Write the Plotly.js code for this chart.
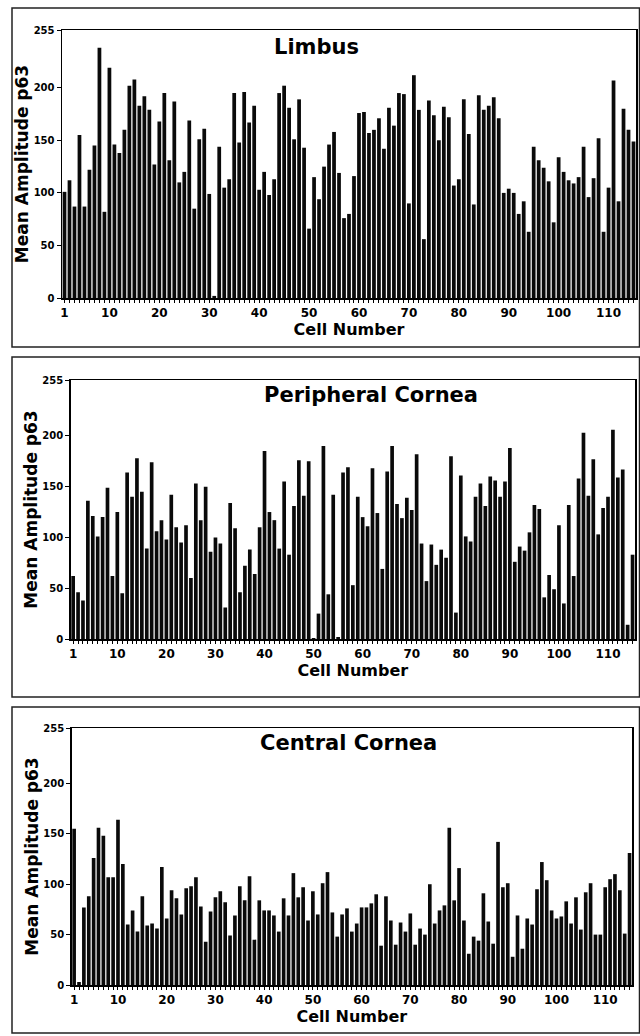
<!DOCTYPE html>
<html><head><meta charset="utf-8">
<script src="https://cdn.plot.ly/plotly-3.0.1.min.js"></script>
<style>html,body{margin:0;padding:0;background:#fff;} #chart{width:640px;height:1036px;}</style>
</head><body><div id="chart"></div>
<script>
// ---- data ----
const cellNumbers = Array.from({length: 115}, (_, i) => i + 1);
const limbus = [101,112,87,155,87,122,145,238,82,219,146,138,160,202,208,183,192,179,127,168,195,131,187,110,120,169,85,151,161,99,2,144,105,113,195,148,
196,167,183,103,120,98,113,195,202,181,151,189,143,66,115,94,125,146,158,119,76,80,116,176,177,157,160,171,142,181,164,195,194,90,212,179,56,188,174,150,
182,172,107,113,189,156,89,193,179,183,191,171,100,104,100,80,92,63,144,131,124,111,72,134,120,112,109,115,144,96,114,152,63,105,207,92,180,160,149];
const peripheral = [62,46,38,136,121,101,120,149,62,125,45,164,140,178,145,89,174,106,117,98,142,110,95,112,60,153,117,150,86,100,
94,31,134,109,46,72,88,64,110,185,125,117,89,155,83,131,176,141,175,1,25,190,44,142,2,164,169,53,140,120,111,168,124,69,165,190,133,119,139,127,182,
94,57,93,73,88,80,180,26,161,101,96,140,153,131,160,156,140,155,188,76,91,87,105,132,128,41,63,49,112,35,132,62,158,203,141,177,103,129,140,206,159,167,14,83];
const central = [155,3,77,88,126,156,148,107,107,164,120,60,74,53,88,59,61,56,117,66,94,86,70,96,98,107,78,43,73,87,93,82,49,69,98,
84,108,45,84,74,74,69,53,86,69,111,87,97,64,93,70,101,112,72,48,70,76,53,61,77,77,81,90,39,88,64,40,62,53,71,40,56,50,100,61,74,
79,156,84,116,64,31,48,44,91,63,41,142,97,101,28,69,36,66,60,95,122,104,74,66,68,83,61,87,55,92,101,50,50,97,105,110,94,51,131];
const xTickLabels = [1,10,20,30,40,50,60,70,80,90,100,110];
const yTickVals = [0,50,100,150,200,255];
const panelTitles = ['Limbus','Peripheral Cornea','Central Cornea'];
const xTitle = 'Cell Number';
const yTitle = 'Mean Amplitude p63';

// ---- layout helpers ----
const W = 640, H = 1036;
const FONT = 'DejaVu Sans, Liberation Sans, Arial, sans-serif';
const px = x => x / W;
const py = y => 1 - y / H;

const panels = [
  {vals: limbus,     x0: 62,   x1: 636, yb: 298, yt: 30,  tx: 316, ty: 47,  frame: [12, 8, 639.5, 347]},
  {vals: peripheral, x0: 70.7, x1: 635, yb: 639, yt: 380, tx: 371, ty: 395, frame: [12, 357, 639.5, 697]},
  {vals: central,    x0: 71.7, x1: 632, yb: 985, yt: 728, tx: 348, ty: 743, frame: [12, 707, 639.5, 1033]}
];

const data = [];
const layout = {
  width: W, height: H,
  margin: {l: 0, r: 0, t: 0, b: 0},
  paper_bgcolor: '#fff', plot_bgcolor: '#fff',
  showlegend: false,
  bargap: 0.25,
  font: {family: FONT, color: '#000'},
  annotations: [], shapes: []
};

panels.forEach((p, i) => {
  const n = i === 0 ? '' : String(i + 1);
  data.push({
    type: 'bar', x: cellNumbers, y: p.vals,
    xaxis: 'x' + n, yaxis: 'y' + n,
    marker: {color: '#0a0a0a', line: {width: 0}},
    hoverinfo: 'x+y'
  });
  layout['xaxis' + n] = {
    domain: [px(p.x0), px(p.x1)], anchor: 'y' + n,
    range: [0.5, 115.5],
    tickmode: 'array', tickvals: cellNumbers,
    ticktext: cellNumbers.map(c => xTickLabels.includes(c) ? String(c) : ''),
    tickangle: 0,
    ticks: 'outside', ticklen: 3, tickwidth: 1, tickcolor: '#000',
    showline: true, linecolor: '#000', linewidth: 1.5, mirror: true,
    showgrid: false, zeroline: false,
    tickfont: {family: FONT, size: 12, weight: 'bold', color: '#000'},
    title: {text: xTitle, font: {family: FONT, size: 16, weight: 'bold', color: '#000'}, standoff: 2}
  };
  layout['yaxis' + n] = {
    domain: [py(p.yb), py(p.yt)], anchor: 'x' + n,
    range: [0, 255],
    tickmode: 'array', tickvals: yTickVals,
    ticks: 'outside', ticklen: 4, tickwidth: 1, tickcolor: '#000',
    showline: true, linecolor: '#000', linewidth: 1.5, mirror: true,
    showgrid: false, zeroline: false,
    tickfont: {family: FONT, size: 10, weight: 'bold', color: '#000'},
    title: {text: yTitle, font: {family: FONT, size: 17, weight: 'bold', color: '#000'}, standoff: 0}
  };
  layout.annotations.push({
    xref: 'paper', yref: 'paper', x: px(p.tx), y: py(p.ty),
    xanchor: 'center', yanchor: 'middle', showarrow: false,
    text: panelTitles[i],
    font: {family: FONT, size: 21, weight: 'bold', color: '#000'}
  });
  const f = p.frame;
  layout.shapes.push({
    type: 'rect', xref: 'paper', yref: 'paper',
    x0: px(f[0]), x1: px(f[2]), y0: py(f[3]), y1: py(f[1]),
    line: {color: '#222', width: 1.5}, fillcolor: 'rgba(0,0,0,0)', layer: 'below'
  });
});

Plotly.newPlot('chart', data, layout, {displayModeBar: false, staticPlot: true});
</script>
</body></html>
